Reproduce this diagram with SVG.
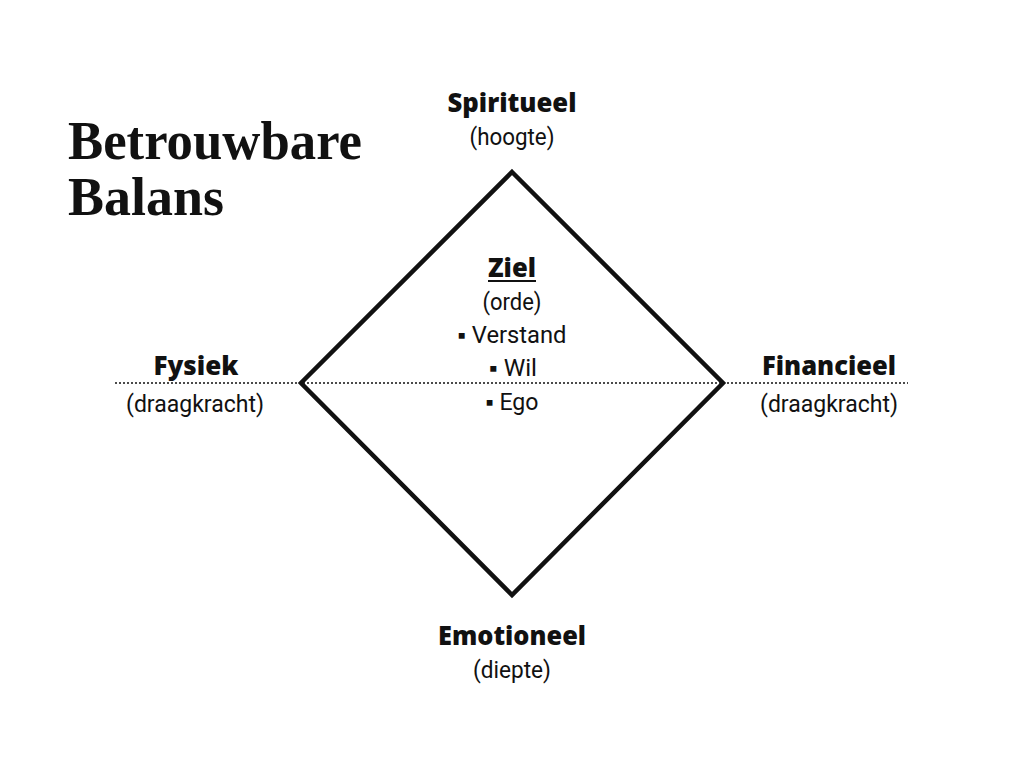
<svg xmlns="http://www.w3.org/2000/svg" width="1024" height="768" viewBox="0 0 1024 768">
<style>
.title{font-family:"Liberation Serif",serif;font-weight:bold;font-size:54px;fill:#111}
.h{font-family:"Open Sans","Liberation Sans",sans-serif;font-weight:800;font-size:27px;fill:#111;text-anchor:middle}
.s{font-family:Roboto,"Liberation Sans",sans-serif;font-weight:400;font-size:23px;fill:#111;text-anchor:middle}
</style>
<rect width="1024" height="768" fill="#fff"/>
<g id="title">
<text class="title" x="68" y="159" textLength="294" lengthAdjust="spacingAndGlyphs">Betrouwbare</text>
<text class="title" x="68" y="215" textLength="156" lengthAdjust="spacingAndGlyphs">Balans</text>
</g>
<g id="connectors">
<line x1="115" y1="383" x2="908" y2="383" stroke="#111" stroke-width="1.5" stroke-dasharray="2,2"/>
<polygon points="512,172 723,383 512,595 301,383" fill="none" stroke="#111" stroke-width="4.5" stroke-linejoin="miter"/>
</g>
<g id="spiritueel">
<text class="h" x="512" y="112" textLength="129" lengthAdjust="spacingAndGlyphs">Spiritueel</text>
<text class="s" x="512" y="145" textLength="85" lengthAdjust="spacingAndGlyphs">(hoogte)</text>
</g>
<g id="ziel">
<text class="h" x="512" y="277" textLength="48" lengthAdjust="spacingAndGlyphs">Ziel</text>
<line x1="488" y1="281" x2="536" y2="281" stroke="#111" stroke-width="2"/>
<text class="s" x="512" y="310" textLength="59" lengthAdjust="spacingAndGlyphs">(orde)</text>
<text class="s" x="512" y="343" textLength="109" lengthAdjust="spacingAndGlyphs">▪ Verstand</text>
<text class="s" x="513" y="376" textLength="48" lengthAdjust="spacingAndGlyphs">▪ Wil</text>
<text class="s" x="512" y="410" textLength="53" lengthAdjust="spacingAndGlyphs">▪ Ego</text>
</g>
<g id="fysiek">
<text class="h" x="196" y="375" textLength="85" lengthAdjust="spacingAndGlyphs">Fysiek</text>
<text class="s" x="195" y="412" textLength="138" lengthAdjust="spacingAndGlyphs">(draagkracht)</text>
</g>
<g id="financieel">
<text class="h" x="829" y="375" textLength="134" lengthAdjust="spacingAndGlyphs">Financieel</text>
<text class="s" x="829" y="412" textLength="138" lengthAdjust="spacingAndGlyphs">(draagkracht)</text>
</g>
<g id="emotioneel">
<text class="h" x="512" y="645" textLength="148" lengthAdjust="spacingAndGlyphs">Emotioneel</text>
<text class="s" x="512" y="678" textLength="78" lengthAdjust="spacingAndGlyphs">(diepte)</text>
</g>
</svg>
